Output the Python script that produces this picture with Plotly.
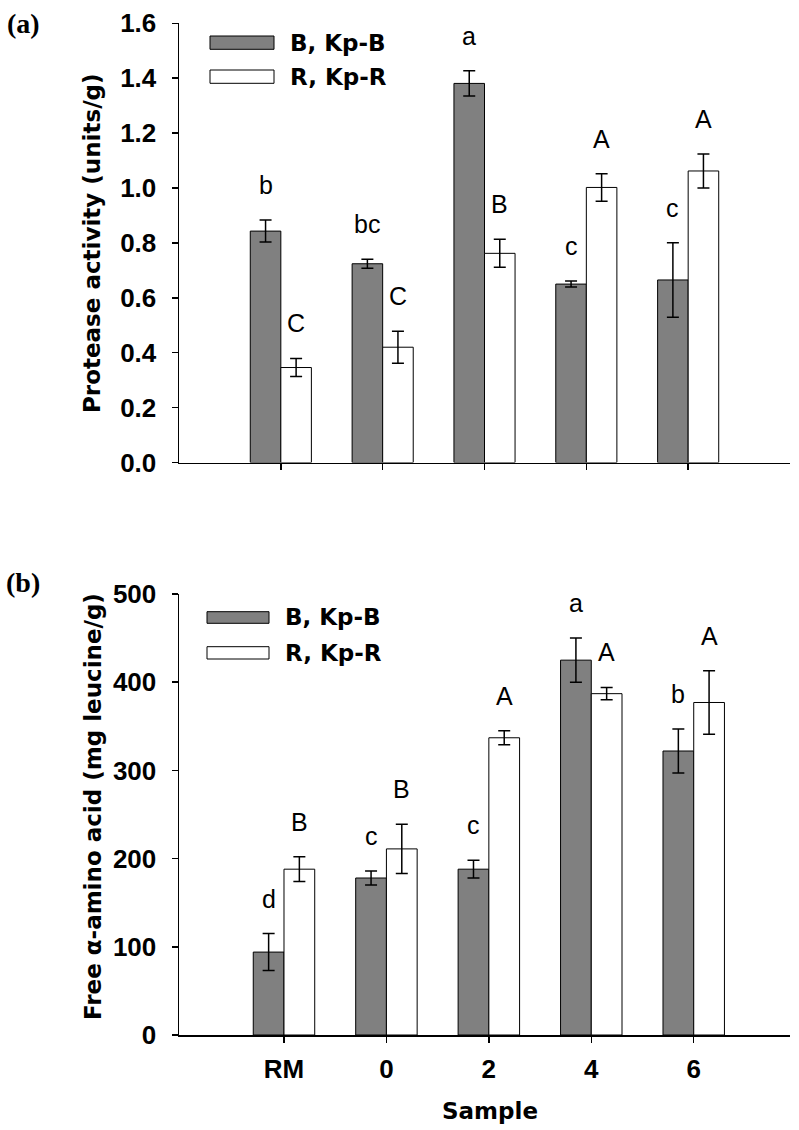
import plotly.graph_objects as go

W, H = 799, 1130

categories = ["RM", "0", "2", "4", "6"]

# Panel (a): protease activity (units/g)
protease_B = [0.843, 0.724, 1.381, 0.650, 0.665]
protease_B_err = [0.040, 0.016, 0.046, 0.011, 0.136]
protease_R = [0.346, 0.420, 0.762, 1.002, 1.062]
protease_R_err = [0.033, 0.058, 0.051, 0.050, 0.062]
protease_B_letters = ["b", "bc", "a", "c", "c"]
protease_R_letters = ["C", "C", "B", "A", "A"]

# Panel (b): free alpha-amino acid (mg leucine/g)
amino_B = [94, 178, 188, 425, 322]
amino_B_err = [21, 8, 10, 25, 25]
amino_R = [188, 211, 337, 387, 377]
amino_R_err = [14, 28, 8, 7, 36]
amino_B_letters = ["d", "c", "c", "a", "b"]
amino_R_letters = ["B", "B", "A", "A", "A"]

series_names = ["B, Kp-B", "R, Kp-R"]
panel_tags = ["(a)", "(b)"]
y_titles = ["Protease activity (units/g)", "Free \u03b1-amino acid (mg leucine/g)"]
x_title = "Sample"

DARK = "#808080"
SANS = "Liberation Sans"
WIDE = "DejaVu Sans"

def px(x):
    return x / W

def py(y):
    return 1 - y / H

fig = go.Figure()

def add_bars(vals_b, err_b, vals_r, err_r, xa, ya):
    fig.add_trace(go.Bar(
        x=categories, y=vals_b, name=series_names[0], xaxis=xa, yaxis=ya,
        marker=dict(color=DARK, line=dict(color="black", width=1)),
        error_y=dict(type="data", array=err_b, color="black", thickness=1.5, width=6),
        showlegend=False, hoverinfo="skip"))
    fig.add_trace(go.Bar(
        x=categories, y=vals_r, name=series_names[1], xaxis=xa, yaxis=ya,
        marker=dict(color="white", line=dict(color="black", width=1)),
        error_y=dict(type="data", array=err_r, color="black", thickness=1.5, width=6),
        showlegend=False, hoverinfo="skip"))

add_bars(protease_B, protease_B_err, protease_R, protease_R_err, "x", "y")
add_bars(amino_B, amino_B_err, amino_R, amino_R_err, "x2", "y2")

annotations = []

def add_letters(vals, errs, letters, offset, xref, yref):
    for i, (v, e, t) in enumerate(zip(vals, errs, letters)):
        annotations.append(dict(
            x=i + offset, y=v + e, xref=xref, yref=yref, text=t,
            showarrow=False, yanchor="bottom", xanchor="center", yshift=19,
            font=dict(family=SANS, size=25, color="black")))

add_letters(protease_B, protease_B_err, protease_B_letters, -0.15, "x", "y")
add_letters(protease_R, protease_R_err, protease_R_letters, 0.15, "x", "y")
add_letters(amino_B, amino_B_err, amino_B_letters, -0.15, "x2", "y2")
add_letters(amino_R, amino_R_err, amino_R_letters, 0.15, "x2", "y2")

# panel tags
annotations.append(dict(x=px(23), y=py(24), xref="paper", yref="paper", text=panel_tags[0],
                        showarrow=False, xanchor="center", yanchor="middle",
                        font=dict(family="Liberation Serif", size=28, color="black", weight="bold")))
annotations.append(dict(x=px(23), y=py(582), xref="paper", yref="paper", text=panel_tags[1],
                        showarrow=False, xanchor="center", yanchor="middle",
                        font=dict(family="Liberation Serif", size=28, color="black", weight="bold")))

# y titles
annotations.append(dict(x=px(92), y=py(243), xref="paper", yref="paper", text=y_titles[0],
                        showarrow=False, textangle=-90, xanchor="center", yanchor="middle",
                        font=dict(family=WIDE, size=23, color="black", weight="bold")))
annotations.append(dict(x=px(93), y=py(807), xref="paper", yref="paper", text=y_titles[1],
                        showarrow=False, textangle=-90, xanchor="center", yanchor="middle",
                        font=dict(family=WIDE, size=23, color="black", weight="bold")))
# x title
annotations.append(dict(x=px(490), y=py(1111), xref="paper", yref="paper", text=x_title,
                        showarrow=False, xanchor="center", yanchor="middle",
                        font=dict(family=WIDE, size=23, color="black", weight="bold")))

# legends (drawn swatches)
shapes = []
legend_rows = [
    [(210, 274, 36, 49.3, 43), (210, 274, 70, 83.3, 77)],
    [(207, 269, 611.7, 623.3, 617), (207, 269, 646.7, 659, 653)],
]
for rows in legend_rows:
    for (x0, x1, y0, y1, yc), name, col in zip(rows, series_names, [DARK, "white"]):
        shapes.append(dict(type="rect", xref="paper", yref="paper",
                           x0=px(x0), x1=px(x1), y0=py(y1), y1=py(y0),
                           fillcolor=col, line=dict(color="black", width=1)))
        annotations.append(dict(x=px(x1 + 14), y=py(yc), xref="paper", yref="paper", text=name,
                                showarrow=False, xanchor="left", yanchor="middle",
                                font=dict(family=WIDE, size=23, color="black", weight="bold")))

axis_common = dict(showline=True, linecolor="black", linewidth=1.5, showgrid=False,
                   zeroline=False, ticks="outside", tickcolor="black", tickwidth=1.5,
                   automargin=False)
tickfont = dict(family=SANS, size=26, color="black", weight="bold")

fig.update_layout(
    template="none",
    width=W, height=H, margin=dict(l=0, r=0, t=0, b=0, autoexpand=False),
    paper_bgcolor="white", plot_bgcolor="white",
    barmode="group", bargap=0.4, bargroupgap=0,
    annotations=annotations, shapes=shapes, hovermode=False,
    xaxis=dict(domain=[px(179), px(790)], anchor="y", type="category", range=[-1, 5],
               ticklen=6, showticklabels=False, **axis_common),
    yaxis=dict(domain=[py(462.5), py(23.3)], anchor="x", range=[0, 1.6], dtick=0.2,
               tickformat=".1f", ticklen=6, ticklabelstandoff=10, tickfont=tickfont, **axis_common),
    xaxis2=dict(domain=[px(179), px(790)], anchor="y2", type="category", range=[-1.025, 4.94],
                ticklen=6, ticklabelstandoff=4, tickfont=tickfont, **axis_common),
    yaxis2=dict(domain=[py(1035), py(594)], anchor="x2", range=[0, 500], dtick=100,
                ticklen=6, ticklabelstandoff=10, tickfont=tickfont, **axis_common),
)

fig.write_html(
    "out.html",
    config={"displayModeBar": False, "staticPlot": True},
    post_script="document.body.style.margin='0';document.body.style.padding='0';"
                "document.body.style.overflow='hidden';",
)
